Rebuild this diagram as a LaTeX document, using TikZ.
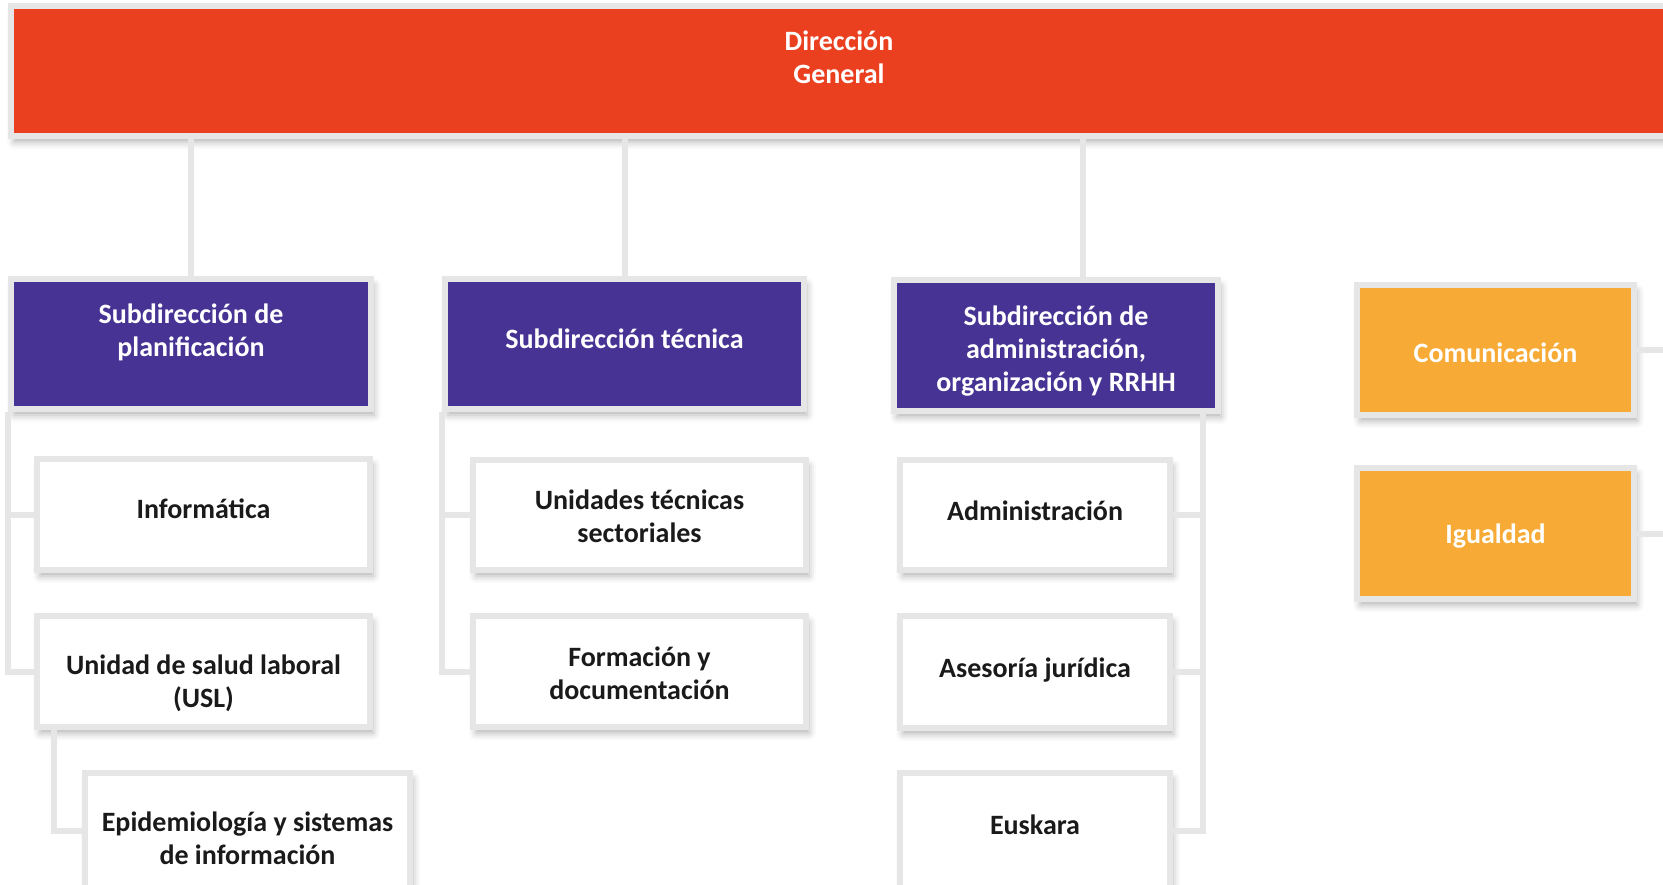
\documentclass[tikz,border=0pt]{standalone}
\usepackage{fontspec}
\setmainfont{Carlito}
\usetikzlibrary{shadows.blur}
\usepackage{xcolor}

\definecolor{dgred}{HTML}{EB4020}
\definecolor{subpurple}{HTML}{463393}
\definecolor{staffyellow}{HTML}{F7AB36}
\definecolor{framegray}{HTML}{E6E6E6}
\definecolor{inkblack}{HTML}{1A1A1A}

\tikzset{
  boxshadow/.style={blur shadow={shadow xshift=3pt,shadow yshift=-6pt,shadow blur radius=7pt,shadow opacity=30}},
  topbox/.style={fill=dgred,minimum width=1656pt,minimum height=130pt},
  subbox/.style={fill=subpurple,minimum height=130pt},
  unitbox/.style={fill=white,minimum height=111pt},
  staffbox/.style={fill=staffyellow,minimum width=277pt,minimum height=130pt},
  lighttext/.style={text=white,align=center,font=\fontsize{28}{33}\selectfont\bfseries},
  darktext/.style={text=inkblack,align=center,font=\fontsize{28}{33}\selectfont\bfseries},
  link/.style={draw=framegray,line width=6pt}
}

\begin{document}
\begin{tikzpicture}[x=1pt,y=-1pt,every node/.style={rectangle,draw=framegray,line width=6pt,inner sep=0pt,boxshadow}]
    \useasboundingbox (0,0) rectangle (1663,884);

    \node[topbox] (dg) at (839,71) {};

    \node[subbox,minimum width=360pt] (planif) at (191,344) {};
    \node[subbox,minimum width=359pt] (tecnica) at (624.5,344) {};
    \node[subbox,minimum width=324pt,minimum height=131pt] (admin) at (1056,345.5) {};

    \node[staffbox] (comunic) at (1495.5,350) {};
    \node[staffbox,minimum height=131pt] (igualdad) at (1495.5,533.5) {};

    \node[unitbox,minimum width=333pt] (inform) at (203.5,514.5) {};
    \node[unitbox,minimum width=333pt] (usl) at (203.5,671.5) {};
    \node[unitbox,minimum width=325pt,minimum height=115pt] (epi) at (247.5,830.5) {};

    \node[unitbox,minimum width=333pt,minimum height=110pt] (unidades) at (639.5,515) {};
    \node[unitbox,minimum width=333pt] (formacion) at (639.5,671.5) {};

    \node[unitbox,minimum width=270pt,minimum height=110pt] (admon) at (1035,515) {};
    \node[unitbox,minimum width=270pt,minimum height=112pt] (asesoria) at (1035,672) {};
    \node[unitbox,minimum width=270pt,minimum height=115pt] (euskara) at (1035,830.5) {};

    \tikzset{every node/.style={}}
    \coordinate (rim) at (1680,0);

    % texts, nudged to where the boxes carry them
    \node[lighttext] (dg-t) at ([yshift=14pt]dg) {Dirección\\General};
    \node[lighttext] (planif-t) at ([yshift=12pt]planif) {Subdirección de\\planificación};
    \node[lighttext] (tecnica-t) at ([yshift=5pt]tecnica) {Subdirección técnica};
    \node[lighttext] (admin-t) at ([yshift=-6pt]admin) {Subdirección de\\administración,\\organización y RRHH};
    \node[lighttext] (comunic-t) at ([yshift=-3pt]comunic) {Comunicación};
    \node[lighttext] (igualdad-t) at ([yshift=-3pt]igualdad) {Igualdad};

    \node[darktext] (inform-t) at ([yshift=6pt]inform) {Informática};
    \node[darktext] (usl-t) at ([yshift=-12pt]usl) {Unidad de salud laboral\\(USL)};
    \node[darktext] (epi-t) at ([yshift=-8pt]epi) {Epidemiología y sistemas\\de información};
    \node[darktext] (unidades-t) at ([yshift=-1pt]unidades) {Unidades técnicas\\sectoriales};
    \node[darktext] (formacion-t) at ([yshift=-2pt]formacion) {Formación y\\documentación};
    \node[darktext] (admon-t) at ([yshift=4pt]admon) {Administración};
    \node[darktext] (asesoria-t) at ([yshift=2pt]asesoria) {Asesoría jurídica};
    \node[darktext] (euskara-t) at ([yshift=6pt]euskara) {Euskara};

    \draw[link] (dg.south -| planif.north) -- (planif.north);
    \draw[link] (dg.south -| tecnica.north) -- (tecnica.north);
    \draw[link] (dg.south -| 1083,0) -- ([xshift=27pt]admin.north);

    \draw[link] (planif.south west) |- (inform.west);
    \draw[link] (planif.south west) |- (usl.west);
    \draw[link] ([xshift=20pt]usl.south west) |- (epi.west);

    \draw[link] (tecnica.south west) |- (unidades.west);
    \draw[link] (tecnica.south west) |- (formacion.west);

    \draw[link] ([xshift=-18pt]admin.south east) |- (admon.east);
    \draw[link] ([xshift=-18pt]admin.south east) |- (asesoria.east);
    \draw[link] ([xshift=-18pt]admin.south east) |- (euskara.east);

    \draw[link] (comunic.east) -- (comunic.east -| rim);
    \draw[link] (igualdad.east) -- (igualdad.east -| rim);
\end{tikzpicture}
\end{document}
